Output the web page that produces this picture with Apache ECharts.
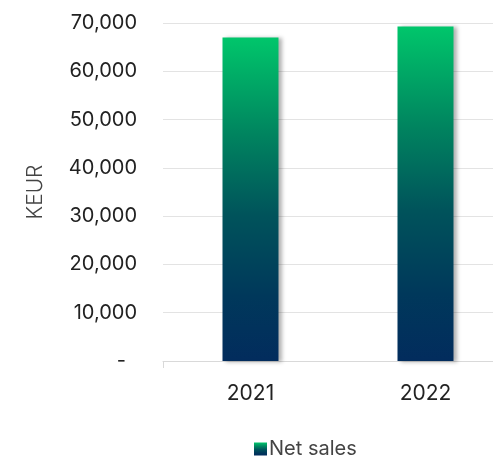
<!DOCTYPE html>
<html><head><meta charset="utf-8">
<script src="https://cdn.jsdelivr.net/npm/echarts@6/dist/echarts.min.js"></script>
<style>html,body{margin:0;padding:0;background:#fff;overflow:hidden;width:493px;height:460px}#c{width:513px;height:460px}</style>
</head><body><div id="c"></div>
<script>
const categories = ['2021', '2022'];
const netSales = [67000, 69300];
const seriesName = 'Net sales';
const yAxisName = 'KEUR';

const chart = echarts.init(document.getElementById('c'), null, {renderer: 'canvas'});
const grad = new echarts.graphic.LinearGradient(0, 0, 0, 1, [
  {offset: 0, color: '#00c66b'},
  {offset: 0.3, color: '#00845f'},
  {offset: 0.55, color: '#00535b'},
  {offset: 0.8, color: '#00385b'},
  {offset: 1, color: '#022c5d'}
]);
chart.setOption({
  animation: false,
  grid: {left: 163, right: 0, top: 23, bottom: 99, containLabel: false},
  legend: {
    top: 434, left: 249,
    itemWidth: 13, itemHeight: 13, itemGap: 6,
    icon: 'rect',
    textStyle: {fontFamily: 'Inter', fontSize: 20, color: '#444', padding: [0,0,0,-3]},
    data: [seriesName]
  },
  xAxis: {
    type: 'category', data: categories,
    axisLine: {lineStyle: {color: '#d9d9d9', width: 1}},
    axisTick: {show: true, length: 7, interval: function(i){return i === 0;}, lineStyle: {color: '#d9d9d9'}},
    axisLabel: {fontFamily: 'Inter', fontSize: 21, color: '#222', margin: 22}
  },
  yAxis: {
    type: 'value', min: 0, max: 70000, interval: 10000,
    name: yAxisName, nameLocation: 'middle', nameGap: 117, nameRotate: 90,
    nameTextStyle: {fontFamily: 'Inter', fontSize: 21, color: '#444', fontWeight: 300},
    axisLine: {show: false}, axisTick: {show: false},
    splitLine: {lineStyle: {color: '#e3e3e3', width: 1}},
    axisLabel: {
      fontFamily: 'Inter', fontSize: 20, color: '#222', margin: 26,
      formatter: function(v){ return v === 0 ? '{z|-}' : v.toLocaleString('en-US'); },
      rich: {z: {fontFamily: 'Inter', fontSize: 20, color: '#222', padding: [0, 11, 0, 0]}}
    }
  },
  series: [{
    name: seriesName, type: 'bar', data: netSales, barWidth: 56,
    itemStyle: {
      color: grad,
      shadowColor: 'rgba(0,0,0,0.3)', shadowBlur: 4, shadowOffsetX: 3, shadowOffsetY: 1
    }
  }]
});
</script></body></html>
